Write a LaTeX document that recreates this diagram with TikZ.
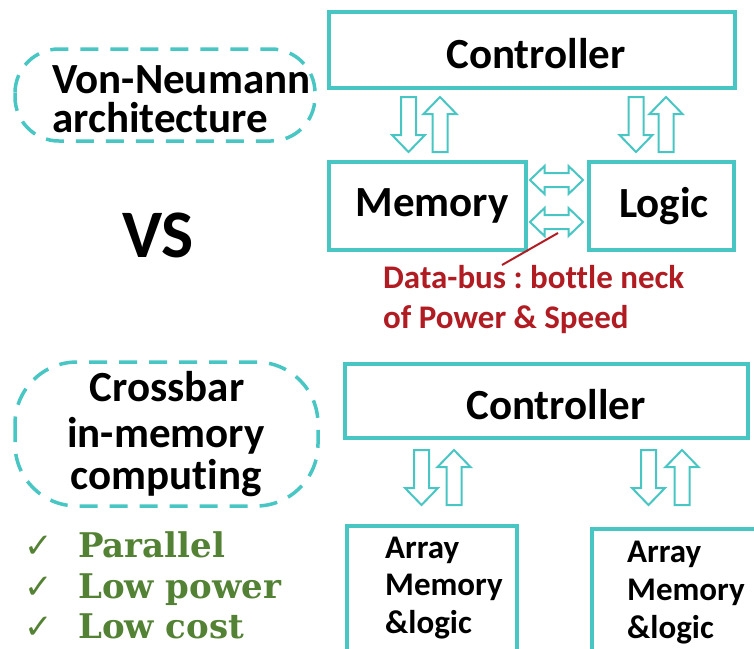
\documentclass[tikz,border=0pt]{standalone}
\usepackage{fontspec}
\setmainfont[Ligatures=CommonOff]{Carlito}
\newfontfamily\greenserif{DejaVu Serif}
\newfontfamily\symbolfont{DejaVu Sans}

\definecolor{tealline}{RGB}{72,198,196}
\definecolor{busred}{RGB}{176,28,34}
\definecolor{okgreen}{RGB}{84,130,53}

\tikzset{
  box/.style={draw=tealline, line width=4pt, inner sep=0pt},
  biglbl/.style={font=\fontsize{43}{50}\selectfont\bfseries, inner sep=0pt},
  smalllbl/.style={font=\fontsize{33}{40}\selectfont\bfseries, inner sep=0pt, anchor=base west},
  redlbl/.style={font=\fontsize{33}{38}\selectfont\bfseries, text=busred, inner sep=0pt, anchor=base west},
  oval/.style={draw=tealline, line width=3.5pt, dash pattern=on 18pt off 12pt},
  arrowline/.style={draw=tealline, fill=white, line width=2pt, line join=miter},
  % hollow block arrow pointing up (towards smaller y), 55 long
  uparrow/.pic={
    \path[arrowline] (-7.5,27.5) -- (-7.5,-10.5) -- (-16.5,-10.5) -- (0,-27.5)
      -- (16.5,-10.5) -- (7.5,-10.5) -- (7.5,27.5) -- cycle;
  },
  % hollow double-headed block arrow, horizontal, 53 long
  busarrow/.pic={
    \path[arrowline] (-26.5,0) -- (-12,-14) -- (-12,-7) -- (12,-7) -- (12,-14)
      -- (26.5,0) -- (12,14) -- (12,7) -- (-12,7) -- (-12,14) -- cycle;
  },
  checkmark/.style={font=\symbolfont\fontsize{34}{36}\selectfont, text=okgreen, inner sep=0pt, anchor=base west},
  checktext/.style={font=\greenserif\bfseries\fontsize{34}{38}\selectfont, text=okgreen, inner sep=0pt, anchor=base west},
}

\begin{document}
\frenchspacing
\begin{tikzpicture}[x=1pt, y=-1pt]
  \useasboundingbox (0,0) rectangle (754,648);
  \clip (0,0) rectangle (754,648);

  % ---- Von-Neumann architecture ----
  \draw[oval, rounded corners=44pt] (15,49) rectangle (315,141);
  \node[biglbl, anchor=base west] (vn1) at (52,93) {Von-Neumann};
  \node[biglbl, anchor=base west] (vn2) at (52,132) {architecture};

  \node[font=\fontsize{68}{80}\selectfont\bfseries, inner sep=0pt] (vs) at (158,235) {VS};

  \node[box, minimum width=406pt, minimum height=76pt] (ctlA) at (532,50) {};
  \node[biglbl] (ctlAtxt) at (536,54) {Controller};

  \node[box, minimum width=197pt, minimum height=88pt] (mem) at (427.5,206) {};
  \node[biglbl] (memtxt) at (432,206) {Memory};
  \node[box, minimum width=145pt, minimum height=88pt] (logic) at (661.5,206) {};
  \node[biglbl] (logictxt) at (664,206) {Logic};

  % control paths between controller and units
  \pic[rotate=180] (mdown) at (408.5,124.5) {uparrow};
  \pic             (mup)   at (440,124.5)   {uparrow};
  \pic[rotate=180] (ldown) at (636,124.5)   {uparrow};
  \pic             (lup)   at (666,124.5)   {uparrow};

  % data bus
  \pic (busA) at (556.5,180) {busarrow};
  \pic (busB) at (556.5,222) {busarrow};
  \coordinate (busmid) at (558,233);
  \coordinate (busnote) at (502,265);
  \draw[busred, line width=2pt] (busmid) -- (busnote);
  \node[redlbl] (red1) at (383,288) {Data-bus : bottle neck};
  \node[redlbl] (red2) at (383,328) {of Power \& Speed};

  % ---- Crossbar in-memory computing ----
  \draw[oval, rounded corners=62pt] (15,362) rectangle (318,506);
  \node[biglbl] (cb1) at (167,387) {Crossbar};
  \node[biglbl, anchor=base] (cb2) at (166,447) {in-memory};
  \node[biglbl, anchor=base] (cb3) at (166,489) {computing};

  \node[checkmark] (ck1) at (24,557) {✓};
  \node[checktext] (pt1) at (78,557) {Parallel};
  \node[checkmark] (ck2) at (24,598) {✓};
  \node[checktext] (pt2) at (78,598) {Low power};
  \node[checkmark] (ck3) at (24,638) {✓};
  \node[checktext] (pt3) at (78,638) {Low cost};

  \node[box, minimum width=403pt, minimum height=74pt] (ctlB) at (546.5,401) {};
  \node[biglbl] (ctlBtxt) at (556,405) {Controller};

  \pic[rotate=180] (adown) at (421.5,477.5) {uparrow};
  \pic             (aup)   at (454,477.5)   {uparrow};
  \pic[rotate=180] (bdown) at (648.5,477.5) {uparrow};
  \pic             (bup)   at (682,477.5)   {uparrow};

  \node[box, minimum width=170pt, minimum height=150pt, anchor=north west] (arrA) at (345,524) {};
  \node[smalllbl] (arrA1) at (385,558) {Array};
  \node[smalllbl] (arrA2) at (385,595) {Memory};
  \node[smalllbl] (arrA3) at (385,633) {\&logic};

  \node[box, minimum width=200pt, minimum height=150pt, anchor=north west] (arrB) at (590,527) {};
  \node[smalllbl] (arrB1) at (627,562) {Array};
  \node[smalllbl] (arrB2) at (627,600) {Memory};
  \node[smalllbl] (arrB3) at (627,638) {\&logic};
\end{tikzpicture}
\end{document}
